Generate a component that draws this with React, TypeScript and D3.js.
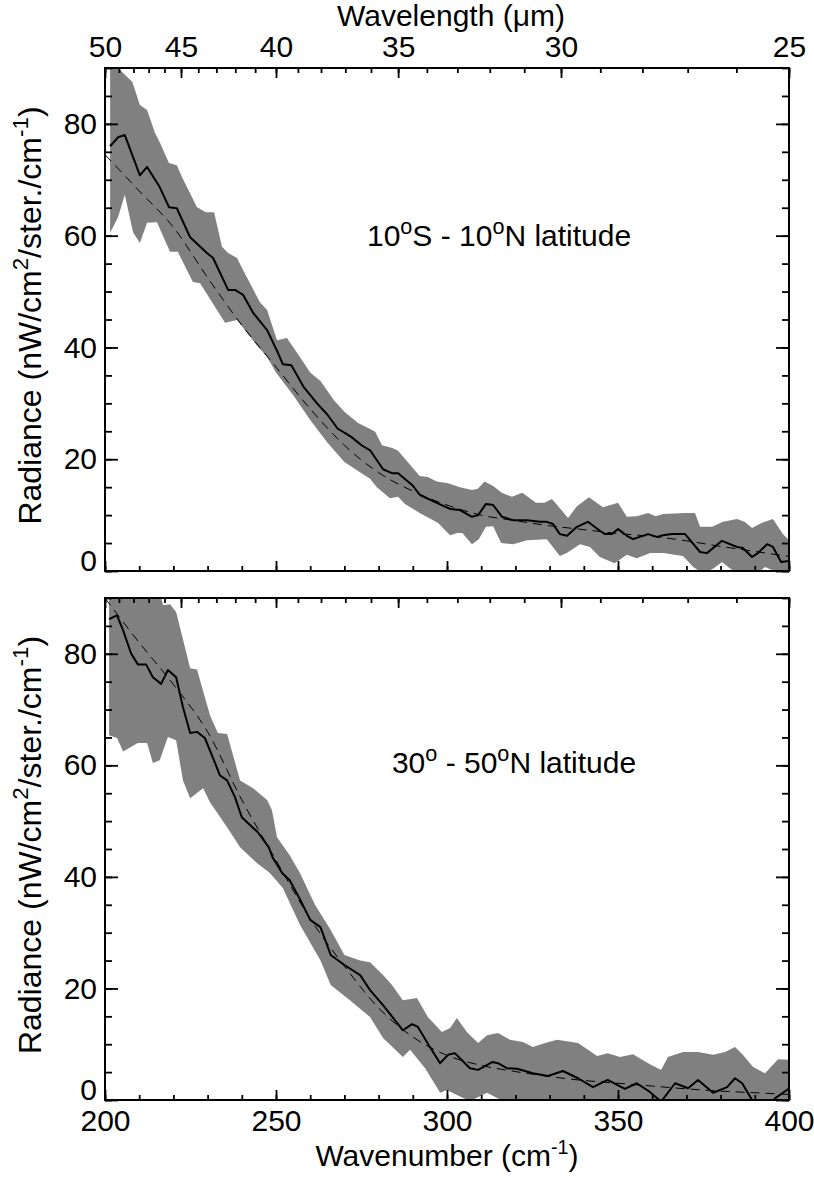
import React, { useEffect, useRef } from 'react'
import * as d3 from 'd3'

type Pt = [number, number]

// wavenumber (cm-1), radiance (nW/cm2/ster./cm-1)
// panel 1: 10S - 10N
const eqMean: Pt[] = [
  [201.5, 76], [203.8, 77.6], [205.8, 78.0], [210.2, 70.8], [212.3, 72.3], [216, 68.7], [218.7, 65.1],
  [221, 64.9], [224.9, 59.7], [229.8, 56.9], [231.6, 56], [236, 50.3], [238, 50.3], [240.4, 49.4],
  [243.3, 46.2], [247.4, 43.1], [250.6, 39], [252, 37], [254.5, 36.8], [258, 33], [262, 30], [265, 28],
  [268, 25.5], [272, 24], [275, 22.5], [277.5, 21.6], [281.3, 18.2], [283.9, 17.5], [285.7, 17.5],
  [289.8, 15.4], [292.1, 13.6], [297, 12.2], [300.9, 11.1], [303.8, 10.9], [307.3, 9.7], [309.1, 10],
  [311.4, 12], [313.5, 11.8], [316.1, 9.7], [319.3, 9.1], [323.4, 9.1], [327.2, 8.8], [329.2, 8.8],
  [331, 8.4], [333, 6.6], [335.1, 6.3], [338, 7.9], [341.2, 8.8], [344.7, 7.2], [346.2, 6.6], [348.2, 6.6],
  [350, 7.5], [352.6, 6.3], [354.4, 5.7], [358.8, 6.6], [361.4, 6.1], [363.2, 6.4], [365.8, 6.6],
  [369.6, 6.6], [374, 3.4], [376, 3.2], [380.4, 5.4], [384.8, 4.3], [386.5, 4.1], [389.2, 2.5],
  [390.9, 3.2], [393.6, 4.8], [395.3, 4.3], [397.7, 1.6], [400, 1.8],
]
const eqUpper: Pt[] = [
  [201.5, 91], [204, 90], [205, 89.3], [208, 87.5], [210.2, 83.4], [212.3, 82.5], [214.6, 78.4], [216, 76.7],
  [218.7, 73], [221, 72.6], [222.5, 70.5], [226.9, 65.1], [229.5, 64.2], [231.9, 64.2], [234.2, 58],
  [236, 56.9], [238.6, 56], [240.4, 53.8], [245.3, 48.1], [247.4, 46.7], [250.3, 41.3], [253.2, 41.7],
  [256, 39.2], [260, 35.5], [263, 34], [267, 30.5], [270, 28.5], [274, 26.5], [277.5, 25.4], [279, 24.9],
  [281, 22.5], [284, 22], [285.7, 21.5], [292, 17], [294.4, 16.8], [297, 16], [300.3, 15.7], [303.8, 15],
  [307.3, 14.5], [309, 14.7], [311, 16], [313.5, 15.2], [316, 14], [319, 13.3], [322, 14], [326, 12.2],
  [328.5, 12.2], [330.7, 12.9], [335.4, 9.5], [338, 11.6], [341.5, 13.2], [345.6, 11.4], [350, 12.2],
  [352.6, 9.7], [355.5, 9.8], [358.8, 10.4], [361, 9.8], [363.2, 10.2], [369.6, 10.4], [372.5, 10.4],
  [374, 7.9], [377.5, 7.9], [380.7, 8.8], [384.8, 9.3], [387, 8.8], [389.2, 7.7], [392, 8.6], [395.3, 9.3],
  [398.2, 6.6], [400, 5.5],
]
const eqLower: Pt[] = [
  [201.5, 60.5], [203.8, 63.3], [205.8, 67.3], [208.2, 60.6], [210.2, 58.7], [212.3, 62.3], [215.2, 62.4],
  [219, 57.1], [221.3, 57.1], [225.7, 51.7], [227.8, 51.5], [235.1, 44.4], [238.6, 44.9], [244.4, 40.4],
  [247.4, 38.3], [250, 35.5], [255, 31.5], [260, 27], [265, 23], [270, 19.5], [275, 17.5], [277.5, 16.5],
  [279.5, 15], [283.3, 13], [285.7, 13.3], [287.7, 12], [292, 10.4], [297.4, 8.6], [300.9, 6.4], [303, 6.8],
  [304.5, 6.8], [307.3, 4.8], [309.3, 5.7], [311.4, 7.9], [313.5, 8], [315.8, 5], [319.3, 4.8], [323.4, 5.5],
  [329.2, 5.7], [333, 2.7], [335, 3.2], [338.9, 4.8], [341.8, 4.3], [344.7, 2.5], [349, 1.4], [352.6, 2.9],
  [355.5, 2.3], [359.4, 3.2], [363.2, 3.2], [369, 2.7], [372, 0.7], [375, -0.5], [378, 0.5], [380.4, 1.6],
  [382.7, 0.5], [386, -1], [390, -0.8], [393, 0.7], [395, 0.2], [397.5, -1], [400, -1.2],
]
const eqFit: Pt[] = [
  [200, 74.5], [210, 68], [220, 61.5], [230, 52.5], [240, 44], [250, 36.5], [260, 29], [270, 22.5],
  [280, 17.6], [290, 14.3], [300, 11.8], [310, 10], [320, 9], [330, 8.1], [340, 7.4], [350, 6.7],
  [360, 6.2], [370, 5.4], [380, 4.4], [390, 3.5], [400, 2.6],
]

// panel 2: 30N - 50N
const midMean: Pt[] = [
  [201.2, 86.2], [203.5, 86.9], [205.3, 84.2], [207.6, 80.1], [209.6, 78.1], [212, 78.1], [214, 75.8],
  [216.4, 74.6], [218.4, 77.1], [220.8, 75.8], [222.8, 70.4], [224.9, 65.8], [226.9, 66], [229.2, 64.9],
  [231.6, 61.3], [233.6, 58.2], [235.7, 57.3], [238, 54.3], [240, 50.7], [242.4, 49.3], [244.7, 48],
  [247.9, 45.3], [249, 43.5], [251.8, 40.7], [254, 39.4], [257, 36], [260, 32.3], [263, 31], [266, 26],
  [270, 24.2], [274.6, 22.4], [277.5, 19.7], [281.3, 17], [287.1, 12.5], [289.8, 13.6], [291.5, 13.1],
  [295, 9.5], [298, 6.6], [300.3, 8.1], [302.3, 8.4], [306.7, 5.7], [309.1, 5.4], [313.2, 6.8],
  [314.9, 6.6], [317.5, 5.7], [320.5, 5.6], [325.1, 4.8], [329.5, 4.3], [333.9, 5.2], [338.3, 3.9],
  [342.7, 2.3], [347, 3.6], [352, 2], [355.5, 3], [359.4, 1.4], [362.6, -0.3], [366.7, 3], [370.5, 2.1],
  [373.4, 3.6], [377.8, 1.3], [381.9, 2.3], [384.2, 3.9], [386.3, 3], [389.5, -0.3], [392, -1.5],
  [394, -1], [395.9, 0.3], [399.4, 1.8], [400, 2],
]
const midUpper: Pt[] = [
  [201.2, 92], [203, 94], [210, 95], [216, 91], [217, 88.7], [219, 88.9], [220.8, 87.5], [224.9, 77.4],
  [226.9, 77.2], [230.7, 69], [233, 65.8], [235.7, 65.6], [239.5, 57.3], [243.3, 55.9], [247.4, 53.8],
  [248.8, 52], [250.3, 47.1], [254, 43.9], [257, 40.7], [261.4, 35], [266, 30.5], [270, 26], [274.6, 25],
  [277.5, 24.7], [281.3, 22.4], [283.9, 20.6], [287.1, 17.9], [291.2, 18.3], [294.4, 14.9], [298.5, 12.2],
  [300.9, 12.9], [302.9, 14.7], [305.8, 12.2], [309.1, 10.2], [311.7, 11.6], [314.9, 12], [318.4, 10.8],
  [322.2, 10.4], [325.1, 9.5], [328.7, 10.2], [332.2, 10.8], [338.3, 10.2], [343.9, 7.9], [347, 8.4],
  [350.6, 7.7], [354.4, 8.2], [358.8, 6.6], [362.6, 5.4], [364.6, 7.7], [369, 8.6], [373.4, 8.6],
  [377.8, 8.1], [381.3, 8.6], [384.2, 9.5], [386.5, 8.1], [389.5, 5.9], [393, 4.8], [396.8, 7.3], [400, 7.2],
]
const midLower: Pt[] = [
  [201.2, 65.4], [203.5, 64.9], [205.3, 62.5], [209.6, 64], [212.3, 64], [214, 60.4], [216, 60.9],
  [218.4, 65.1], [220.8, 64.5], [222.8, 57.3], [224.9, 54.1], [228.7, 55.9], [230.7, 53.4], [235.7, 48.9],
  [239.5, 45.3], [244.4, 42.5], [248.2, 40.7], [252, 38], [257, 31.4], [263, 25], [266, 20.6],
  [271.6, 17.9], [277.5, 14.9], [281.3, 11.1], [287.1, 7.7], [289.2, 9], [293.6, 5.7], [298, 1.3],
  [300, 1.8], [302.9, 0.9], [306.7, -0.2], [311.7, 1.3], [316.4, -0.2], [320, -2], [325, -1.5], [330, -3],
  [340, -3], [350, -2], [360, -4], [370, -3], [380, -3], [390, -5], [400, -3],
]
const midFit: Pt[] = [
  [200, 90], [210, 82], [220, 74.5], [230, 66], [240, 53.8], [250, 43], [260, 32.5], [270, 24],
  [280, 16.5], [290, 11.3], [300, 8], [310, 6.2], [320, 5.1], [330, 4.2], [340, 3.5], [350, 3],
  [360, 2.5], [370, 2], [380, 1.6], [390, 1.3], [400, 1],
]

const wnTicks = [200, 250, 300, 350, 400]
const wnMinor = d3.range(200, 401, 10)
const lambdaTicks = [50, 45, 40, 35, 30, 25]
const lambdaMinor = d3.range(25, 51, 1)
const radTicks = [0, 20, 40, 60, 80]
const radMinor = d3.range(0, 91, 5)

const FONT = '"Liberation Sans", Arial, Helvetica, sans-serif'
const FS = 30

type Part = [string, boolean]
const yTitle: Part[] = [['Radiance (nW/cm', false], ['2', true], ['/ster./cm', false], ['-1', true], [')', false]]
const xTitle: Part[] = [['Wavenumber (cm', false], ['-1', true], [')', false]]
const topTitle: Part[] = [['Wavelength (\u03bcm)', false]]
const labels: Part[][] = [
  [['10', false], ['o', true], ['S - 10', false], ['o', true], ['N latitude', false]],
  [['30', false], ['o', true], [' - 50', false], ['o', true], ['N latitude', false]],
]
const labelPos: Pt[] = [[276.6, 58.1], [283.9, 58.6]]

function rich(sel: any, parts: Part[], size: number, supScale = 0.66) {
  let up = false
  parts.forEach(([t, sup]) => {
    const ts = sel.append('tspan').text(t)
    if (sup) {
      ts.attr('font-size', size * supScale).attr('dy', up ? 0 : -size * 0.4)
      up = true
    } else {
      ts.attr('dy', up ? size * 0.4 : 0)
      up = false
    }
  })
}

export default function App() {
  const svgRef = useRef<SVGSVGElement>(null)

  useEffect(() => {
    const svg = d3.select(svgRef.current)
    svg.selectAll('*').remove()

    const x = d3.scaleLinear().domain([200, 400]).range([105, 789])
    const panels = [
      { top: 68, bottom: 571, mean: eqMean, upper: eqUpper, lower: eqLower, fit: eqFit },
      { top: 598, bottom: 1100, mean: midMean, upper: midUpper, lower: midLower, fit: midFit },
    ]

    const styleAxis = (g: any) => {
      g.select('.domain').remove()
      g.attr('font-size', FS).attr('font-family', FONT)
      g.selectAll('line').attr('stroke', '#000').attr('stroke-width', 1.8)
      g.selectAll('text').attr('fill', '#000')
    }

    panels.forEach((p, i) => {
      const y = d3.scaleLinear().domain([0, 90]).range([p.bottom, p.top])
      const clipId = `clip-${i}`
      svg.append('clipPath').attr('id', clipId)
        .append('rect')
        .attr('x', x(200)).attr('y', y(90))
        .attr('width', x(400) - x(200)).attr('height', y(0) - y(90))

      const g = svg.append('g').attr('clip-path', `url(#${clipId})`)
      const line = d3.line<Pt>().x(d => x(d[0])).y(d => y(d[1]))
      const band = [...p.upper, ...p.lower.slice().reverse()]
      g.append('path').attr('d', line(band) + 'Z').attr('fill', '#808080')

      const fitLine = d3.line<Pt>().x(d => x(d[0])).y(d => y(d[1])).curve(d3.curveMonotoneX)
      g.append('path').datum(p.fit).attr('d', fitLine)
        .attr('fill', 'none').attr('stroke', '#000').attr('stroke-width', 1)
        .attr('stroke-dasharray', '9,6')

      g.append('path').datum(p.mean).attr('d', line)
        .attr('fill', 'none').attr('stroke', '#000').attr('stroke-width', 2)
        .attr('stroke-linejoin', 'round')

      // frame
      svg.append('rect')
        .attr('x', x(200)).attr('y', y(90))
        .attr('width', x(400) - x(200)).attr('height', y(0) - y(90))
        .attr('fill', 'none').attr('stroke', '#000').attr('stroke-width', 2)

      // left / right radiance axes
      svg.append('g').attr('transform', `translate(${x(200)},0)`)
        .call(d3.axisLeft(y).tickValues(radTicks).tickSize(-13).tickPadding(8).tickFormat(d3.format('d')))
        .call(styleAxis)
        .call((a: any) => a.selectAll('.tick text').filter((d: number) => d === 0)
          .attr('transform', 'translate(0,-10)'))
      svg.append('g').attr('transform', `translate(${x(200)},0)`)
        .call(d3.axisLeft(y).tickValues(radMinor).tickSize(-7).tickFormat(() => ''))
        .call(styleAxis)
      svg.append('g').attr('transform', `translate(${x(400)},0)`)
        .call(d3.axisRight(y).tickValues(radTicks).tickSize(-13).tickFormat(() => ''))
        .call(styleAxis)
      svg.append('g').attr('transform', `translate(${x(400)},0)`)
        .call(d3.axisRight(y).tickValues(radMinor).tickSize(-7).tickFormat(() => ''))
        .call(styleAxis)

      // bottom wavenumber axis
      svg.append('g').attr('transform', `translate(0,${y(0)})`)
        .call(d3.axisBottom(x).tickValues(wnTicks).tickSize(-10).tickPadding(10)
          .tickFormat(i === 1 ? d3.format('d') : () => ''))
        .call(styleAxis)
      svg.append('g').attr('transform', `translate(0,${y(0)})`)
        .call(d3.axisBottom(x).tickValues(wnMinor).tickSize(-5).tickFormat(() => ''))
        .call(styleAxis)

      // top wavelength axis
      svg.append('g').attr('transform', `translate(0,${y(90)})`)
        .call(d3.axisTop(x).tickValues(lambdaTicks.map(l => 1e4 / l)).tickSize(-10).tickPadding(11)
          .tickFormat(i === 0 ? (v: any) => String(Math.round(1e4 / v)) : () => ''))
        .call(styleAxis)
      svg.append('g').attr('transform', `translate(0,${y(90)})`)
        .call(d3.axisTop(x).tickValues(lambdaMinor.map(l => 1e4 / l)).tickSize(-5).tickFormat(() => ''))
        .call(styleAxis)

      // y title
      const yt = svg.append('text')
        .attr('transform', `translate(41,${(p.top + p.bottom) / 2 - 4}) rotate(-90)`)
        .attr('text-anchor', 'middle').attr('font-family', FONT).attr('font-size', 32)
      rich(yt, yTitle, 32, 0.7)

      // region label
      const lt = svg.append('text')
        .attr('x', x(labelPos[i][0])).attr('y', y(labelPos[i][1]))
        .attr('font-family', FONT).attr('font-size', FS)
      rich(lt, labels[i], FS, 0.72)
    })

    const xt = svg.append('text')
      .attr('x', x(300)).attr('y', 1166)
      .attr('text-anchor', 'middle').attr('font-family', FONT).attr('font-size', FS)
    rich(xt, xTitle, FS)

    const tt = svg.append('text')
      .attr('x', x(300) + 4).attr('y', 26)
      .attr('text-anchor', 'middle').attr('font-family', FONT).attr('font-size', FS)
    rich(tt, topTitle, FS)
  }, [])

  return (
    <div style={{ position: 'absolute', left: 0, top: 0, width: 814, height: 1177, background: '#fff' }}>
      <svg ref={svgRef} width={814} height={1177} style={{ display: 'block' }} />
    </div>
  )
}
